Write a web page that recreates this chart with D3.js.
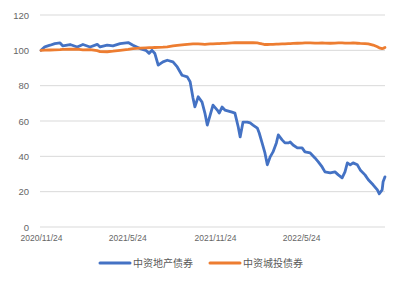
<!DOCTYPE html>
<html>
<head>
<meta charset="utf-8">
<script src="https://cdn.jsdelivr.net/npm/d3@7"></script>
<style>
  body { margin: 0; background: #fff; }
  text { font-family: "Noto Sans CJK SC", "Noto Sans", sans-serif; }
  .axis text { font-family: "Liberation Sans", "DejaVu Sans", sans-serif; }
</style>
</head>
<body>
<svg id="chart" width="402" height="282"></svg>
<script>
// series names
const seriesNames = ["中资地产债券", "中资城投债券"];
const seriesColors = ["#4472C4", "#ED7D31"];

// observation dates
const dates = [
  "2020-11-24","2020-12-02","2020-12-13","2020-12-23","2021-01-03","2021-01-09","2021-01-24","2021-02-08",
  "2021-02-20","2021-03-07","2021-03-22","2021-03-28","2021-04-12","2021-04-24","2021-05-09","2021-05-26",
  "2021-06-05","2021-06-20","2021-07-02","2021-07-09","2021-07-15","2021-07-21","2021-07-28","2021-08-07",
  "2021-08-16","2021-08-28","2021-09-06","2021-09-16","2021-09-27","2021-10-03","2021-10-09","2021-10-13",
  "2021-10-20","2021-10-28","2021-11-03","2021-11-08","2021-11-14","2021-11-20","2021-11-29","2021-12-03",
  "2021-12-09","2021-12-15","2021-12-30","2022-01-05","2022-01-12","2022-01-16","2022-01-22","2022-01-31",
  "2022-02-06","2022-02-12","2022-02-21","2022-02-25","2022-03-03","2022-03-09","2022-03-14","2022-03-20",
  "2022-03-26","2022-04-02","2022-04-06","2022-04-14","2022-04-20","2022-04-27","2022-05-01","2022-05-07",
  "2022-05-16","2022-05-26","2022-06-01","2022-06-12","2022-06-22","2022-06-29","2022-07-07","2022-07-13",
  "2022-07-24","2022-08-03","2022-08-10","2022-08-18","2022-08-24","2022-08-29","2022-09-04","2022-09-10",
  "2022-09-19","2022-09-25","2022-10-05","2022-10-12","2022-10-22","2022-10-31","2022-11-04","2022-11-10",
  "2022-11-12","2022-11-16"
];

// 中资地产债券
const property = [
  100, 102, 102.9, 103.8, 104.2, 102.5, 103.3, 101.9,
  103.3, 101.9, 103.4, 101.9, 102.9, 102.5, 103.8, 104.4,
  102.9, 101, 100, 98.3, 100, 98.2, 91.6, 93.5,
  94.4, 93.5, 90.6, 85.9, 85, 82.2, 73, 68,
  73.7, 70.7, 64.5, 57.7, 63.3, 69, 66.2, 64.5,
  67.9, 66.2, 65, 64.5, 56.6, 51, 59.4, 59.4,
  58.9, 57.7, 56, 53.2, 47.6, 41.9, 35.2, 39.7,
  42.5, 47.6, 52.1, 49.3, 47.6, 47.6, 48.1, 46.4,
  44.8, 44.8, 42.5, 41.9, 39.1, 36.9, 34, 31.2,
  30.6, 31.2, 29.5, 27.8, 31.2, 36.3, 35.2, 36.3,
  35.2, 32.3, 29.5, 26.7, 23.9, 21, 18.8, 21,
  25.6, 28.4
];

// 中资城投债券
const lgfv = [
  100, 100.1, 100.2, 100.3, 100.4, 100.5, 100.6, 100.7,
  100.3, 100.4, 99.8, 99.3, 99.2, 99.5, 100, 100.5,
  101, 101.3, 101.4, 101.5, 101.5, 101.6, 101.7, 101.8,
  102, 102.5, 102.8, 103.1, 103.4, 103.5, 103.6, 103.6,
  103.6, 103.5, 103.4, 103.5, 103.6, 103.7, 103.8, 103.8,
  103.9, 103.9, 104.2, 104.3, 104.3, 104.3, 104.3, 104.3,
  104.3, 104.3, 104.2, 104, 103.6, 103.3, 103.3, 103.4,
  103.4, 103.5, 103.5, 103.6, 103.7, 103.8, 103.8, 103.9,
  104, 104.1, 104.2, 104.2, 104.1, 104.1, 104.2, 104.1,
  104, 104.1, 104.2, 104.2, 104.1, 104.1, 104.1, 104.2,
  104, 103.9, 103.8, 103.6, 103, 102, 101.4, 101,
  101.1, 101.6
];

const xTicks = ["2020-11-24", "2021-05-24", "2021-11-24", "2022-05-24"];
const yTicks = [0, 20, 40, 60, 80, 100, 120];

const parse = d3.timeParse("%Y-%m-%d");
const fmt = d3.timeFormat("%Y/%-m/%-d");

const margin = {left: 41, right: 17, top: 15, bottom: 55};
const W = 402, H = 282;
const width = W - margin.left - margin.right;
const height = H - margin.top - margin.bottom;

const svg = d3.select("#chart");
const g = svg.append("g").attr("transform", `translate(${margin.left},${margin.top})`);

const x = d3.scaleTime()
  .domain([parse("2020-11-24"), parse("2022-11-16")])
  .range([0, width]);

const y = d3.scaleLinear()
  .domain([0, 120])
  .range([height, 0]);

// gridlines
g.append("g")
  .selectAll("line")
  .data(yTicks)
  .enter()
  .append("line")
  .attr("x1", -1)
  .attr("x2", width)
  .attr("y1", d => y(d))
  .attr("y2", d => y(d))
  .attr("stroke", "#d9d9d9")
  .attr("stroke-width", 1);

// y axis labels
const yAxis = g.append("g")
  .attr("class", "axis")
  .call(d3.axisLeft(y).tickValues(yTicks).tickSize(0).tickPadding(12));
yAxis.select(".domain").remove();
yAxis.selectAll("text")
  .style("font-size", "9.5px")
  .style("fill", "#666");

// x axis labels
const xAxis = g.append("g")
  .attr("class", "axis")
  .attr("transform", `translate(0, ${height})`)
  .call(d3.axisBottom(x).tickValues(xTicks.map(parse)).tickFormat(fmt).tickSize(0).tickPadding(8));
xAxis.select(".domain").remove();
xAxis.selectAll("text")
  .style("font-size", "8.5px")
  .style("fill", "#666");

const rows = dates.map((d, i) => ({date: parse(d), vals: [property[i], lgfv[i]]}));

const line = idx => d3.line()
  .x(d => x(d.date))
  .y(d => y(d.vals[idx]));

[0, 1].forEach(i => {
  g.append("path")
    .datum(rows)
    .attr("fill", "none")
    .attr("stroke", seriesColors[i])
    .attr("stroke-width", 2.8)
    .attr("stroke-linejoin", "round")
    .attr("stroke-linecap", "round")
    .attr("d", line(i));
});

// legend
const legend = svg.append("g").attr("transform", "translate(100, 263)");
const legendX = [0, 110];
seriesNames.forEach((name, i) => {
  const lg = legend.append("g").attr("transform", `translate(${legendX[i]},0)`);
  lg.append("line")
    .attr("x1", 0).attr("x2", 30)
    .attr("y1", 0).attr("y2", 0)
    .attr("stroke", seriesColors[i])
    .attr("stroke-width", 3)
    .attr("stroke-linecap", "round");
  lg.append("text")
    .attr("x", 33)
    .attr("y", 0)
    .attr("dy", "0.35em")
    .style("font-size", "10px")
    .style("fill", "#595959")
    .text(name);
});
</script>
</body>
</html>
